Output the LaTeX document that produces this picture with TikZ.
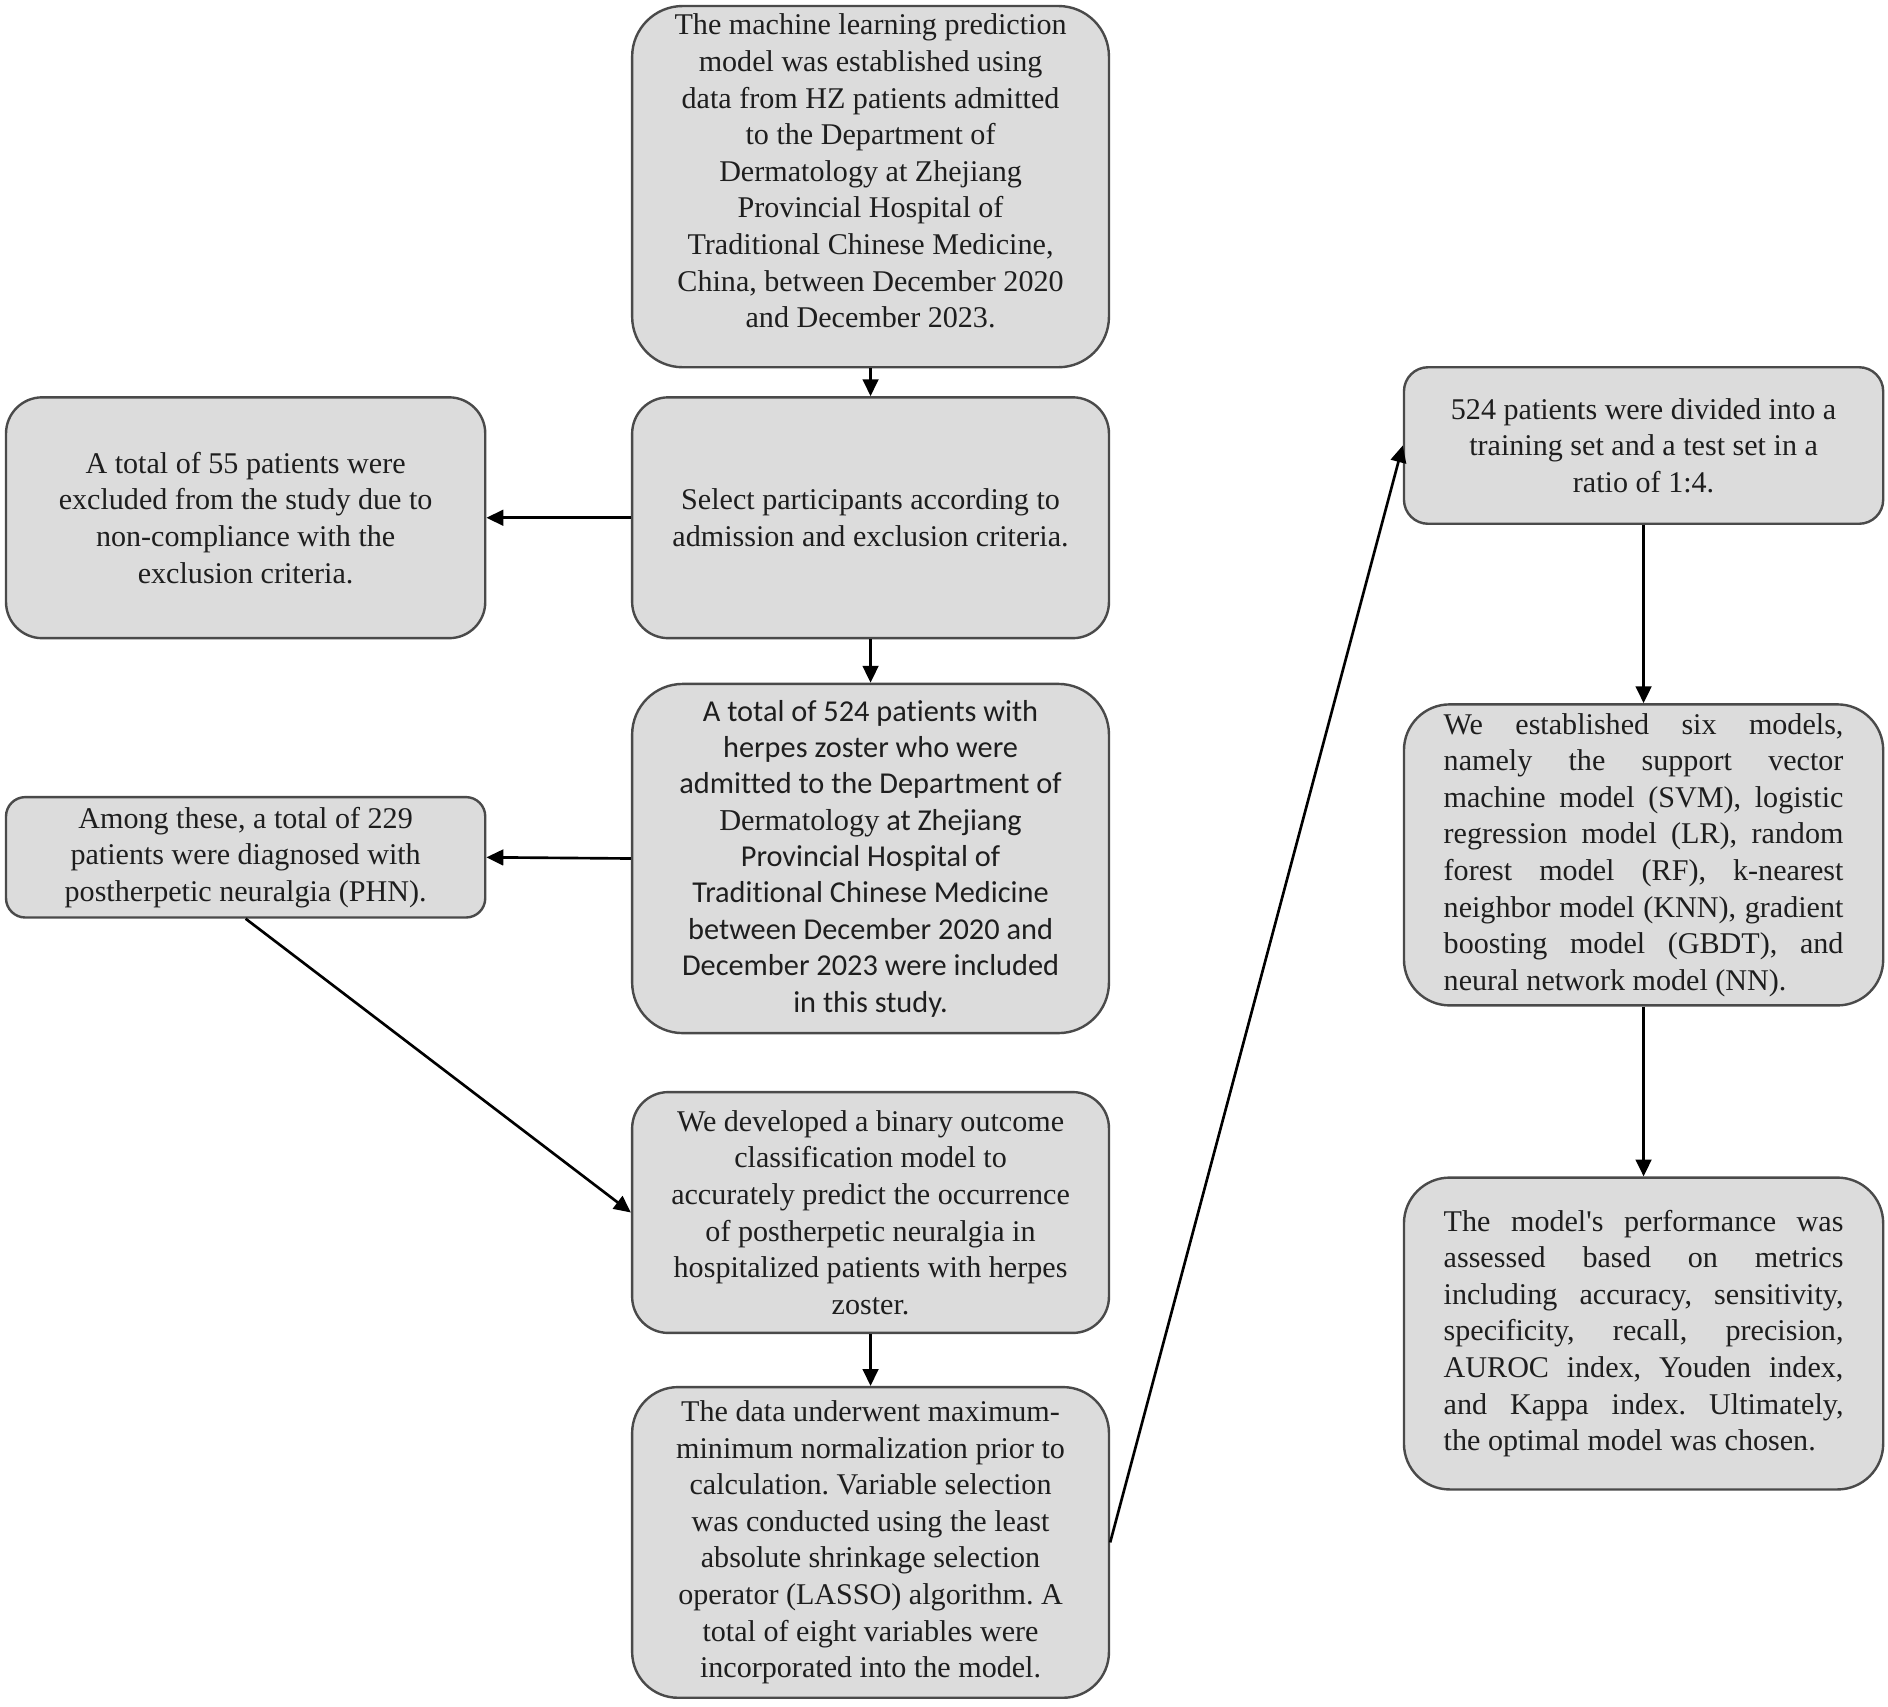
\documentclass[tikz,border=0pt]{standalone}
\usepackage{fontspec}
\setmainfont{Liberation Serif}[Ligatures=TeXOff]
\newfontfamily\calib{Carlito}[Ligatures=TeXOff, RawFeature={-liga;-dlig;-calt;-clig}]
\usetikzlibrary{arrows.meta}
\definecolor{boxfill}{HTML}{DCDCDC}
\definecolor{boxline}{HTML}{4A4A4A}
\definecolor{txtcol}{HTML}{1E1E1E}
\tikzset{
  box/.style={draw=boxline, line width=1pt, fill=boxfill, text=txtcol,
    align=center, inner sep=0pt,
    font=\frenchspacing\fontsize{12.5}{15.2}\selectfont},
  jbox/.style={box, align=justify, text width=166pt},
  conn/.style={draw=black, line width=1.1pt, -{Triangle[length=7pt,width=6.5pt]}}
}
\begin{document}
\begin{tikzpicture}[x=0.5pt, y=-0.5pt]
\useasboundingbox (0,0) rectangle (1568,1417);

\node[box, minimum width=198pt, minimum height=150pt, rounded corners=21pt,
  label={[name=toptxt, text=txtcol, align=center, font=\frenchspacing\fontsize{12.5}{15.2}\selectfont, yshift=6.5pt]center:{The machine learning prediction\\model was established using\\data from HZ patients admitted\\to the Department of\\Dermatology at Zhejiang\\Provincial Hospital of\\Traditional Chinese Medicine,\\China, between December 2020\\and December 2023.}}]
  (top) at (723,155) {};

\node[box, minimum width=198pt, minimum height=100pt, rounded corners=15pt]
  (select) at (723,430) {Select participants according to\\admission and exclusion criteria.};

\node[box, minimum width=199pt, minimum height=100pt, rounded corners=15pt]
  (excl) at (204,430) {A total of 55 patients were\\excluded from the study due to\\non-compliance with the\\exclusion criteria.};

\node[box, minimum width=198pt, minimum height=145pt, rounded corners=21pt,
  font=\calib\frenchspacing\fontsize{12.6}{15.1}\selectfont]
  (p524) at (723,713) {A total of 524 patients with\\herpes zoster who were\\admitted to the Department of\\{\rmfamily Dermatology} at Zhejiang\\Provincial Hospital of\\Traditional Chinese Medicine\\between December 2020 and\\December 2023 were included\\in this study.};

\node[box, minimum width=199pt, minimum height=50pt, rounded corners=8pt]
  (among) at (204,712) {Among these, a total of 229\\patients were diagnosed with\\postherpetic neuralgia (PHN).};

\node[box, minimum width=198pt, minimum height=100pt, rounded corners=15pt]
  (devel) at (723,1007) {We developed a binary outcome\\classification model to\\accurately predict the occurrence\\of postherpetic neuralgia in\\hospitalized patients with herpes\\zoster.};

\node[box, minimum width=198pt, minimum height=129pt, rounded corners=19pt]
  (data) at (723,1281) {The data underwent maximum-\\minimum normalization prior to\\calculation. Variable selection\\was conducted using the least\\absolute shrinkage selection\\operator (LASSO) algorithm. A\\total of eight variables were\\incorporated into the model.};

\node[box, minimum width=199pt, minimum height=65pt, rounded corners=10pt]
  (divided) at (1365,370) {524 patients were divided into a\\training set and a test set in a\\ratio of 1:4.};

\node[jbox, minimum width=199pt, minimum height=125pt, rounded corners=19pt,
  inner xsep=16.5pt]
  (estab) at (1365,710) {\hyphenpenalty=10000 We established six models,\linebreak namely the support vector\linebreak machine model (SVM), logistic\linebreak regression model (LR), random\linebreak forest model (RF), k-nearest\linebreak neighbor model (KNN), gradient\linebreak boosting model (GBDT), and\linebreak neural network model (NN).};

\node[jbox, minimum width=199pt, minimum height=129.5pt, rounded corners=19pt,
  inner xsep=16.5pt]
  (perf) at (1365,1107.5) {\hyphenpenalty=10000 The model's performance was\linebreak assessed based on metrics\linebreak including accuracy, sensitivity,\linebreak specificity, recall, precision,\linebreak AUROC index, Youden index,\linebreak and Kappa index. Ultimately,\linebreak the optimal model was chosen.};

\draw[conn] (top.south) -- (select.north);
\draw[conn] (select.west) -- (excl.east);
\draw[conn] (select.south) -- (p524.north);
\draw[conn] (p524.west) -- (among.east);
\draw[conn] (among.south) -- (devel.west);
\draw[conn] (devel.south) -- (data.north);
\draw[conn] (data.east) -- (divided.west);
\draw[conn] (divided.south) -- (estab.north);
\draw[conn] (estab.south) -- (perf.north);
\end{tikzpicture}
\end{document}
